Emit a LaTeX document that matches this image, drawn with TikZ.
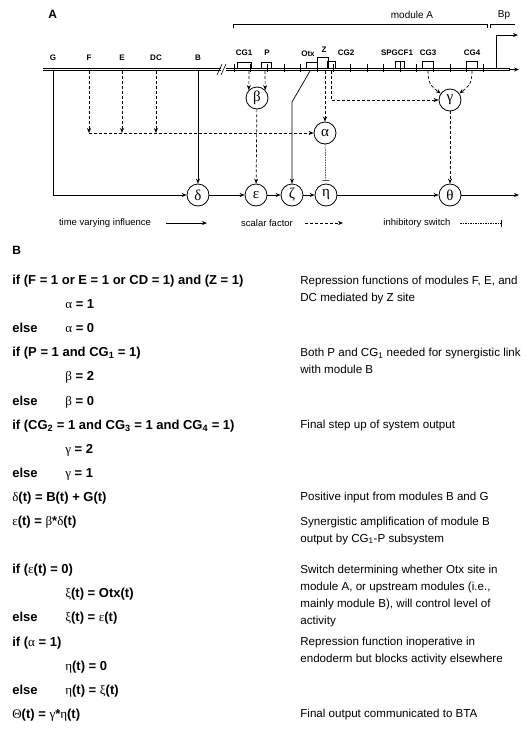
\documentclass[tikz,border=0pt]{standalone}
\usepackage{fontspec}
\setmainfont{Liberation Sans}
\newfontfamily\grk{Liberation Serif}
\usetikzlibrary{arrows.meta}
\newcommand{\rows}[1]{\begin{tabular}[t]{@{}l@{}}#1\end{tabular}}
\newcommand{\gk}[1]{{\grk\mdseries #1}}

\begin{document}
\begin{tikzpicture}[x=1pt, y=-1pt, line width=0.7pt, >={Stealth[length=5pt,width=4pt]},
	var/.style={circle, draw, line width=0.8pt, minimum size=22pt, inner sep=0pt, font=\fontsize{15}{15}\selectfont\grk},
	site/.style={font=\fontsize{8}{8}\selectfont\bfseries, inner sep=0pt},
	leg/.style={font=\fontsize{9.5}{9.5}\selectfont, inner sep=0pt},
	scal/.style={->, dash pattern=on 3pt off 2pt},
	inhib/.style={-{Bar[width=7pt]}, dash pattern=on 1.5pt off 1pt, line width=0.5pt},
	cond/.style={anchor=base west, inner sep=0pt, font=\fontsize{13}{15}\selectfont\bfseries},
	note/.style={anchor=base west, inner sep=0pt, font=\fontsize{11.6}{17}\selectfont}]
	\useasboundingbox (0,0) rectangle (525,731);
	\node[anchor=base west, inner sep=0pt, font=\fontsize{12}{12}\selectfont\bfseries] (pA) at (48,18) {A};
	\draw[double, double distance=1.2pt, line width=0.7pt] (43,69.5) -- (221,69.5);
	\draw[double, double distance=1.2pt, line width=0.7pt] (226,69.5) -- (510,69.5);
	\draw[->, line width=1.2pt] (509,69.5) -- (519,69.5);
	\draw[line width=0.6pt] (217,75) -- (222,64);
	\draw[line width=0.6pt] (221,75) -- (226,64);
	\foreach \i in {0,...,15}
		\draw[line width=0.5pt] (234+16.6*\i,64) -- ++(0,8);
	\foreach \a/\b/\t in {237/251/62, 261/271/62, 306/317/62, 317/328/57, 327/335/61, 395/404/61, 422/433/61, 466/477/61}
		\draw[line width=0.6pt] (\a,68) -- (\a,\t) -- (\b,\t) -- (\b,68);
	\draw[line width=0.6pt] (400,61) -- (400,68);
	\draw[line width=0.6pt] (233,28) -- (233,24) -- (487,24) -- (487,28);
	\draw[line width=0.6pt] (490,28) -- (490,24) -- (515,24);
	\draw[->, line width=0.8pt] (496,68) -- (496,35) -- (518,35);
	\node[leg, font=\fontsize{10}{10}\selectfont] (modA) at (412,15) {module A};
	\node[leg, font=\fontsize{10}{10}\selectfont] (Bp) at (504,15) {Bp};
	\node[site] (lG) at (53,58) {G};
	\node[site] (lF) at (89,58) {F};
	\node[site] (lE) at (122,58) {E};
	\node[site] (lDC) at (156,58) {DC};
	\node[site] (lB) at (198,58) {B};
	\node[site] (lCGa) at (244,53) {CG1};
	\node[site] (lP) at (267,53) {P};
	\node[site] (lOtx) at (308,54) {Otx};
	\node[site] (lZ) at (324,50) {Z};
	\node[site] (lCGb) at (346,53) {CG2};
	\node[site] (lSP) at (397,53) {SPGCF1};
	\node[site] (lCGc) at (428,53) {CG3};
	\node[site] (lCGd) at (472,53) {CG4};
	\coordinate (sG) at (53,71);
	\coordinate (sF) at (89,71);
	\coordinate (sE) at (122,71);
	\coordinate (sDC) at (156,71);
	\coordinate (sB) at (198,71);
	\coordinate (sCGa) at (249,71);
	\coordinate (sP) at (265,71);
	\coordinate (sOtx) at (310,71);
	\coordinate (sZ) at (325,71);
	\coordinate (sCGb) at (331,71);
	\coordinate (sCGc) at (428,71);
	\coordinate (sCGd) at (472,71);
	\coordinate (jF) at (89,133);
	\coordinate (jE) at (122,133);
	\coordinate (jDC) at (156,133);
	\coordinate (otxb) at (292,102);
	\coordinate (out) at (519,195);
	\node[var] (beta) at (257,98) {β};
	\node[var] (gamma) at (450,100) {γ};
	\node[var] (alpha) at (325,133) {α};
	\node[var] (delta) at (198,195) {δ};
	\node[var] (eps) at (256,195) {ε};
	\node[var] (zeta) at (292,195) {ζ};
	\node[var] (eta) at (326,195) {η};
	\node[var] (theta) at (450,195) {θ};
	\draw[->] (sG) |- (delta);
	\draw[->] (sB) -- (delta);
	\draw[scal] (sF) -- (jF);
	\draw[scal] (sE) -- (jE);
	\draw[scal] (sDC) -- (jDC);
	\draw[scal] (jF) -- (alpha);
	\draw[scal] (sCGa) -- (beta.136);
	\draw[scal] (sP) -- (beta.44);
	\draw[scal] (sZ) -- (alpha);
	\draw[scal] (sCGb) |- (gamma);
	\draw[scal] (sCGc) .. controls +(0,14) and +(-8,-6) .. (gamma.145);
	\draw[scal] (sCGd) .. controls +(0,14) and +(8,-6) .. (gamma.35);
	\draw[scal] (beta) -- (eps);
	\draw[scal] (gamma) -- (theta);
	\draw[inhib, shorten >=3pt] (alpha) -- (eta);
	\draw[->] (sOtx) -- (otxb) -- (zeta);
	\draw[->] (delta) -- (eps);
	\draw[->] (eps) -- (zeta);
	\draw[->] (zeta) -- (eta);
	\draw[->] (eta) -- (theta);
	\draw[->] (theta) -- (out);
	\node[leg] (tvi) at (105,223) {time varying influence};
	\node[leg] (scf) at (267,223) {scalar factor};
	\node[leg] (isw) at (417,223) {inhibitory switch};
	\coordinate (ta) at (166,223);
	\coordinate (tb) at (207,223);
	\coordinate (sa) at (305,223);
	\coordinate (sb) at (343,223);
	\coordinate (ia) at (460,223);
	\coordinate (ib) at (501,223);
	\draw[->] (ta) -- (tb);
	\draw[scal] (sa) -- (sb);
	\draw[inhib] (ia) -- (ib);
	\node[anchor=base west, inner sep=0pt, font=\fontsize{12}{12}\selectfont\bfseries] (pB) at (12,254) {B};
	\node[cond] (c1) at (12,284.5) {if (F = 1 or E = 1 or CD = 1) and (Z = 1)};
	\node[cond] (c2) at (65,308.6) {\gk{α} = 1};
	\node[cond] (c3a) at (12,332.7) {else};
	\node[cond] (c3b) at (65,332.7) {\gk{α} = 0};
	\node[cond] (c4) at (12,356.8) {if (P = 1 and CG\textsubscript{1} = 1)};
	\node[cond] (c5) at (65,380.9) {\gk{β} = 2};
	\node[cond] (c6a) at (12,405) {else};
	\node[cond] (c6b) at (65,405) {\gk{β} = 0};
	\node[cond] (c7) at (12,429.1) {if (CG\textsubscript{2} = 1 and CG\textsubscript{3} = 1 and CG\textsubscript{4} = 1)};
	\node[cond] (c8) at (65,453.2) {\gk{γ} = 2};
	\node[cond] (c9a) at (12,477.3) {else};
	\node[cond] (c9b) at (65,477.3) {\gk{γ} = 1};
	\node[cond] (c10) at (12,501.4) {\gk{δ}(t) = B(t) + G(t)};
	\node[cond] (c11) at (12,525.5) {\gk{ε}(t) = \gk{β}*\gk{δ}(t)};
	\node[cond] (c12) at (12,573.7) {if (\gk{ε}(t) = 0)};
	\node[cond] (c13) at (65,597.8) {\gk{ξ}(t) = Otx(t)};
	\node[cond] (c14a) at (12,621.9) {else};
	\node[cond] (c14b) at (65,621.9) {\gk{ξ}(t) = \gk{ε}(t)};
	\node[cond] (c15) at (12,646) {if (\gk{α} = 1)};
	\node[cond] (c16) at (65,670.1) {\gk{η}(t) = 0};
	\node[cond] (c17a) at (12,694.2) {else};
	\node[cond] (c17b) at (65,694.2) {\gk{η}(t) = \gk{ξ}(t)};
	\node[cond] (c18) at (12,718.3) {\gk{Θ}(t) = \gk{γ}*\gk{η}(t)};
	\node[note] (n1) at (300,284) {\rows{Repression functions of modules F, E, and\\DC mediated by Z site}};
	\node[note] (n4) at (300,356.3) {\rows{Both P and CG\textsubscript{1} needed for synergistic link\\with module B}};
	\node[note] (n7) at (300,428.6) {Final step up of system output};
	\node[note] (n10) at (300,500.9) {Positive input from modules B and G};
	\node[note] (n11) at (300,525) {\rows{Synergistic amplification of module B\\output by CG\textsubscript{1}-P subsystem}};
	\node[note] (n12) at (300,573.2) {\rows{Switch determining whether Otx site in\\module A, or upstream modules (i.e.,\\mainly module B), will control level of\\activity}};
	\node[note] (n15) at (300,645.5) {\rows{Repression function inoperative in\\endoderm but blocks activity elsewhere}};
	\node[note] (n18) at (300,717.8) {Final output communicated to BTA};
\end{tikzpicture}
\end{document}
